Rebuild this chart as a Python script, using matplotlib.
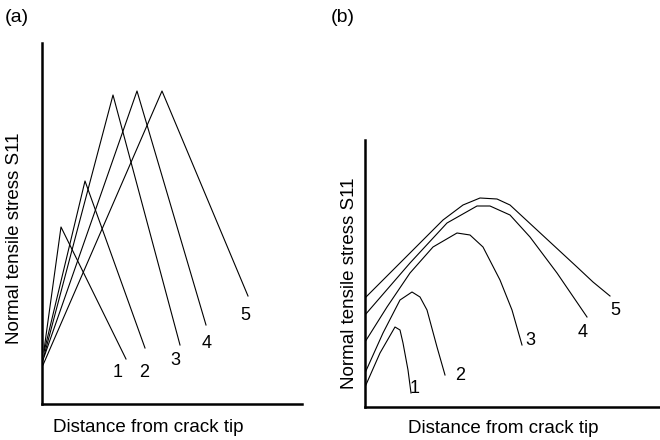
import matplotlib
matplotlib.use("Agg")
import matplotlib.pyplot as plt

plt.rcParams['font.family'] = ['Liberation Sans', 'DejaVu Sans']

# (a) linear stress profiles: start, peak, end (distance, stress)
a_x = [[2, 19, 84], [2, 43, 103], [2, 71, 138], [1, 95, 164], [1, 120, 206]]
a_y = [[54, 177, 45], [52, 223, 56], [48, 309, 59], [44, 313, 79], [39, 313, 108]]
a_lab_x = [76, 102, 133, 165, 203]
a_lab_y = [32, 32, 44, 61, 89]

# (b) smooth stress profiles
b_x = [
    [0, 15, 30, 35, 38, 43, 46],
    [0, 18, 35, 47, 55, 62, 72, 80],
    [0, 22, 45, 68, 92, 105, 118, 135, 147, 157],
    [0, 45, 82, 112, 125, 145, 165, 192, 222],
    [0, 45, 78, 98, 115, 132, 145, 172, 212, 228, 245],
]
b_y = [
    [20, 54, 80, 77, 64, 37, 14],
    [34, 74, 107, 115, 110, 97, 60, 32],
    [65, 100, 134, 160, 174, 172, 160, 127, 97, 62],
    [92, 144, 184, 201, 201, 192, 170, 134, 90],
    [109, 154, 187, 202, 209, 208, 202, 177, 140, 125, 111],
]
b_lab_x = [50, 95, 165, 218, 250]
b_lab_y = [19, 32, 67, 75, 97]

labels = ['1', '2', '3', '4', '5']

W, H = 660, 440
fig = plt.figure(figsize=(6.6, 4.4), dpi=100)

def make_axes(x0, y0, x1, y1):
    ax = fig.add_axes([x0 / W, (H - y1) / H, (x1 - x0) / W, (y1 - y0) / H])
    ax.set_xlim(0, x1 - x0)
    ax.set_ylim(0, y1 - y0)
    for s in ['top', 'right']:
        ax.spines[s].set_visible(False)
    ax.spines['left'].set_linewidth(1.8)
    ax.spines['bottom'].set_linewidth(1.8)
    ax.set_xticks([])
    ax.set_yticks([])
    return ax

def add_labels(ax, xl, yl):
    ax.set_xlabel('Distance from crack tip', fontsize=13.5, va='center')
    ax.set_ylabel('Normal tensile stress S11', fontsize=13.5, va='center')
    ax.xaxis.set_label_coords(*xl)
    ax.yaxis.set_label_coords(*yl)

ax1 = make_axes(42, 43, 302, 404)
for xs, ys in zip(a_x, a_y):
    ax1.plot(xs, ys, color='black', lw=0.8)
for lx, ly, t in zip(a_lab_x, a_lab_y, labels):
    ax1.text(lx, ly, t, fontsize=13, ha='center', va='center')
add_labels(ax1, (0.408, -0.064), (-0.104, 0.46))

ax2 = make_axes(365, 140, 660, 407)
for xs, ys in zip(b_x, b_y):
    ax2.plot(xs, ys, color='black', lw=0.8)
for lx, ly, t in zip(b_lab_x, b_lab_y, labels):
    ax2.text(lx, ly, t, fontsize=13, ha='center', va='center')
add_labels(ax2, (0.468, -0.079), (-0.051, 0.464))

fig.text(17 / W, 1 - 17 / H, '(a)', fontsize=14, ha='center', va='center')
fig.text(343 / W, 1 - 17 / H, '(b)', fontsize=14, ha='center', va='center')

fig.savefig('out.png', dpi=100)
